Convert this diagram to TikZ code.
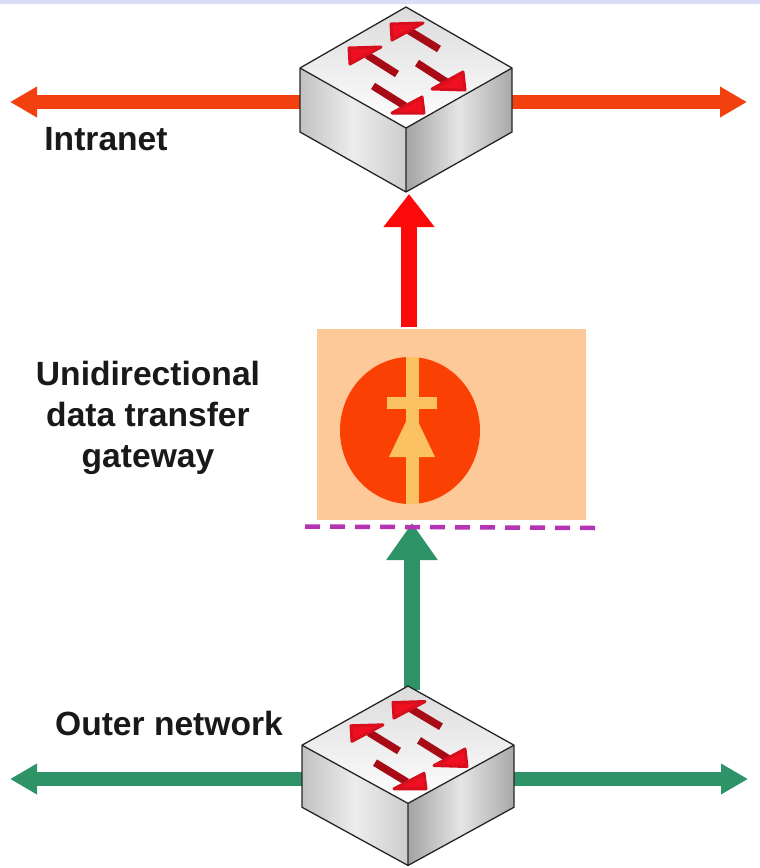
\documentclass[tikz,border=0pt]{standalone}
\usepackage{fontspec}
\setmainfont{Liberation Sans}
\usepackage{xcolor}
\usetikzlibrary{arrows.meta, calc, shapes.geometric}

\definecolor{bandblue}{HTML}{D9DDF8}
\definecolor{linkred}{HTML}{F2400F}
\definecolor{uplinkred}{HTML}{FC0A0A}
\definecolor{linkgreen}{HTML}{2E9468}
\definecolor{gatefill}{HTML}{FDC998}
\definecolor{diodered}{HTML}{FB4003}
\definecolor{diodeyellow}{HTML}{FBC264}
\definecolor{dashpurple}{HTML}{B434B4}
\definecolor{swarrow}{HTML}{EE1020}

\begin{document}
\begin{tikzpicture}[x=1pt, y=-1pt,
    caption/.style = {font=\bfseries\fontsize{33.6}{41}\selectfont, align=center, text=black!90, inner sep=0pt},
    sidelink/.style = {line width=14pt, -{Triangle[length=27pt, width=29pt]}},
    uplink/.style = {line width=16pt, -{Triangle[length=33pt, width=49pt]}},
    switchbox/.style = {minimum width=212pt, minimum height=185pt, inner sep=0pt},
    switch/.pic = {
        \shade [left color=black!24, right color=black!20, middle color=black!7]
            (-106,61) -- (0,121) -- (0,185) -- (-106,125) -- cycle;
        \shade [left color=black!36, right color=black!34, middle color=black!10]
            (0,121) -- (106,61) -- (106,125) -- (0,185) -- cycle;
        \shade [top color=black!14, bottom color=white]
            (0,0) -- (106,61) -- (0,121) -- (-106,61) -- cycle;
        \draw [black!85, line width=1.3pt, line join=round]
            (0,0) -- (106,61) -- (106,125) -- (0,185) -- (-106,125) -- (-106,61) -- cycle
            (-106,61) -- (0,121) -- (106,61) (0,121) -- (0,185);
        \foreach \ta/\tb/\pa/\pb/\qa/\qb/\ra/\rb/\sa/\sb in {
            33/42/2/23/17/16/-14/33/-15/17,
            -9/67/-39/48/-25/40/-56/57/-57/41,
            11/56/42/76/26/82/57/65/59/83,
            -33/79/-1/99/-14/106/16/90/18/106}{
            \draw [swarrow!70!black, line width=7.5pt] (\ta,\tb) -- (\pa,\pb);
            \filldraw [swarrow, draw=swarrow!90!black, line width=3pt, line join=round]
                (\qa,\qb) -- (\sa,\sb) -- (\ra,\rb) -- cycle;
        }
    }]
    \useasboundingbox (0,0) rectangle (760,868);
    \fill [bandblue] (0,0) rectangle (760,4);

    % Nodes
    \node [switchbox] (topswitch) at (406,99.5) {};
    \node [switchbox] (lowswitch) at (408,775.5) {};
    \node [fill=gatefill, minimum width=269pt, minimum height=191pt, inner sep=0pt] (gateway) at (451.5,424.5) {};
    \node [fill=diodered, ellipse, minimum width=140pt, minimum height=147pt, inner sep=0pt] (diode) at (410,430.5) {};
    \node [caption] (intranet) at (106,139) {Intranet};
    \node [caption] (gatetext) at (148,418) {Unidirectional\\data transfer\\gateway};
    \node [caption] (outer) at (169,723) {Outer network};

    % Free ends
    \coordinate (intraleft) at (10,102);
    \coordinate (intraright) at (747,102);
    \coordinate (outerleft) at (10,779);
    \coordinate (outerright) at (748,779);
    \coordinate (redfoot) at (409,327);
    \coordinate (redtip) at (409,194);
    \coordinate (greenfoot) at (412,690);
    \coordinate (greentip) at (412,523);
    \coordinate (dashleft) at (305,526.5);
    \coordinate (dashright) at (595,528);

    % Diode
    \fill [diodeyellow] (405.5,357) rectangle (418.5,504);
    \fill [diodeyellow] (387,397) rectangle (437,409);
    \fill [diodeyellow] (412,409) -- (435,457) -- (389,457) -- cycle;

    % Connectors
    \draw [sidelink, linkred] (topswitch.center |- intraleft) -- (intraleft);
    \draw [sidelink, linkred] (topswitch.center |- intraright) -- (intraright);
    \draw [sidelink, linkgreen] (lowswitch.center |- outerleft) -- (outerleft);
    \draw [sidelink, linkgreen] (lowswitch.center |- outerright) -- (outerright);
    \draw [uplink, uplinkred] (redfoot) -- (redtip);
    \draw [uplink, linkgreen, -{Triangle[length=37pt, width=49pt]}] (greenfoot) -- (greentip);
    \draw [dashpurple, line width=4.5pt, dash pattern=on 15pt off 10pt] (dashleft) -- (dashright);

    % Switches
    \pic at (406,7) {switch};
    \pic [yscale=0.97] at (408,686) {switch};
\end{tikzpicture}
\end{document}
